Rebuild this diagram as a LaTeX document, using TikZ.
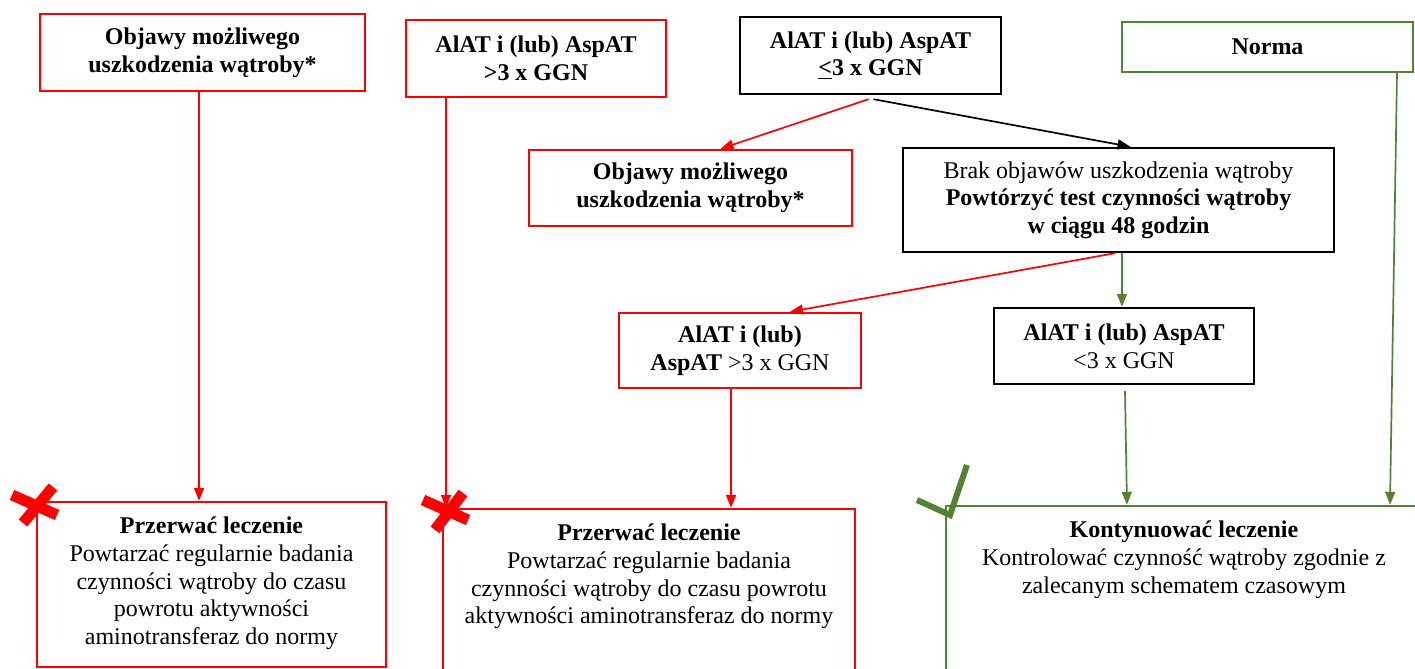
\documentclass[tikz,border=0pt]{standalone}
\usepackage{fontspec}
\setmainfont{Liberation Serif}
\usepackage{xcolor}
\usetikzlibrary{arrows.meta, positioning}

\definecolor{okgreen}{RGB}{84,130,53}

\begin{document}
\begin{tikzpicture}[x=0.5pt, y=-0.5pt,
    box/.style={draw, line width=1.2pt, align=center, inner sep=2pt, font=\fontsize{12}{13.8}\selectfont},
    redbox/.style={box, draw=red},
    greenbox/.style={box, draw=okgreen},
    txt/.style={align=center, inner sep=0pt, font=\fontsize{12}{13.8}\selectfont},
    arr/.style={line width=0.85pt, -{Triangle[length=6.5pt, width=5pt]}},
    cross/.style={draw=red, line width=5.5pt},
    tick/.style={draw=okgreen, line width=3pt}]
    \useasboundingbox (0,0) rectangle (1415,669);
    \clip (0,0) rectangle (1415,669);
    % Top row
    \node[redbox, minimum width=162.5pt, minimum height=38.5pt] (a) at (202.5,52.5) {\textbf{Objawy możliwego}\\\textbf{uszkodzenia wątroby*}};
    \node[redbox, minimum width=130pt, minimum height=38.5pt] (b) at (536,58.5) {\textbf{AlAT i (lub) AspAT}\\\textbf{>3 x GGN}};
    \node[box, minimum width=130.5pt, minimum height=38.5pt] (c) at (870.5,55.5) {\textbf{AlAT i (lub) AspAT}\\\textbf{\underline{<}3 x GGN}};
    \node[greenbox, minimum width=145.5pt, minimum height=25pt] (n) at (1267.5,47) {\textbf{Norma}};
    % Middle rows
    \node[redbox, minimum width=161.5pt, minimum height=38pt] (d) at (690.5,188) {\textbf{Objawy możliwego}\\\textbf{uszkodzenia wątroby*}};
    \node[box, minimum width=215.5pt, minimum height=52pt] (e) at (1118.5,200) {Brak objawów uszkodzenia wątroby\\\textbf{Powtórzyć test czynności wątroby}\\\textbf{w ciągu 48 godzin}};
    \node[redbox, minimum width=121pt, minimum height=37.5pt] (f) at (740,350.5) {\textbf{AlAT i (lub)}\\\textbf{AspAT} >3 x GGN};
    \node[box, minimum width=130pt, minimum height=38pt] (g) at (1124,346) {\textbf{AlAT i (lub) AspAT}\\<3 x GGN};
    % Bottom boxes
    \node[redbox, minimum width=174.5pt, minimum height=82.5pt] (h1) at (211.5,584.5) {};
    \node[redbox, minimum width=206pt, minimum height=96pt] (h2) at (649,605) {};
    \node[greenbox, minimum width=238pt, minimum height=97pt] (h3) at (1184,603) {};
    \node[txt, below=8pt of h1.north] (h1txt) {\textbf{Przerwać leczenie}\\Powtarzać regularnie badania\\czynności wątroby do czasu\\powrotu aktywności\\aminotransferaz do normy};
    \node[txt, below=8pt of h2.north] (h2txt) {\textbf{Przerwać leczenie}\\Powtarzać regularnie badania\\czynności wątroby do czasu powrotu\\aktywności aminotransferaz do normy};
    \node[txt, below=8pt of h3.north] (h3txt) {\textbf{Kontynuować leczenie}\\Kontrolować czynność wątroby zgodnie z\\zalecanym schematem czasowym};
    % Connectors
    \draw[arr, red] ([xshift=-1.75pt]a.south) -- ([xshift=-1.75pt]a.south |- h1.north);
    \draw[arr, red] ([xshift=-45pt]b.south) -- ([xshift=-45pt]b.south |- h2.north);
    \draw[arr, red] ([xshift=-1pt, yshift=-2pt]c.south) -- ([xshift=15pt]d.north);
    \draw[arr] ([xshift=1.5pt, yshift=-2pt]c.south) -- ([xshift=6pt]e.north);
    \draw[arr, red] ([xshift=-1.75pt]e.south) -- ([xshift=25pt]f.north);
    \draw[arr, okgreen] ([xshift=1.75pt]e.south) -- ([xshift=1.75pt]e.south |- g.north);
    \draw[arr, red] ([xshift=-4.5pt]f.south) -- ([xshift=-4.5pt]f.south |- h2.north);
    \draw[arr, okgreen] ([xshift=0.5pt, yshift=-3pt]g.south) -- ([xshift=-28.5pt]h3.north);
    \draw[arr, okgreen] ([xshift=64.75pt]n.south) -- ([xshift=103pt]h3.north);
    % Marks
    \draw[cross] (12,495) -- (57,515);
    \draw[cross] (53,487) -- (23,523);
    \draw[cross] (423,500) -- (468,520);
    \draw[cross] (463,493) -- (435,530);
    \draw[tick] (917,500) -- (950,515) -- (967,465);
\end{tikzpicture}
\end{document}
